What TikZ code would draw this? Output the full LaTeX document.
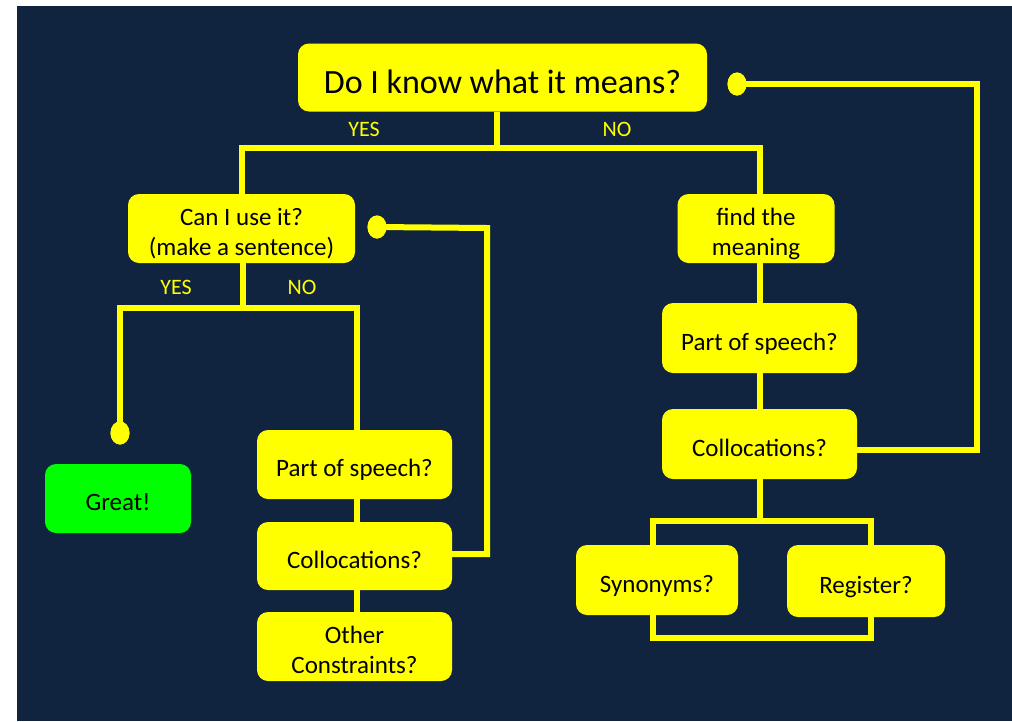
\documentclass[tikz,border=0pt]{standalone}
\usepackage{fontspec}
\setmainfont{Carlito}
\usetikzlibrary{shapes.geometric}
\definecolor{navy}{RGB}{17,36,63}
\definecolor{ylw}{RGB}{255,255,0}
\definecolor{grn}{RGB}{0,255,0}
\tikzset{
  box/.style={draw=none, fill=ylw, rounded corners=11pt, align=center, text=black,
    font=\fontsize{25}{30}\selectfont, inner sep=0pt, text depth=0pt, text height=24pt},
  twoline/.style={text height=54pt},
  conn/.style={draw=ylw, line width=6pt},
  dot/.style={ellipse, fill=ylw, minimum width=19pt, minimum height=23pt, inner sep=0pt},
  lbl/.style={text=ylw, font=\fontsize{22}{24}\selectfont, inner sep=0pt},
}
\begin{document}
\begin{tikzpicture}[x=1pt,y=-1pt]
\useasboundingbox (0,0) rectangle (1012,721);
\fill[white] (0,0) rectangle (1012,721);
\fill[navy] (17,6) rectangle (1012,721);

% boxes
\node[box, minimum width=409pt, minimum height=68pt, font=\fontsize{34}{40}\selectfont, text height=32pt] (top) at (502.5,77.5) {Do I know what it means?};
\node[box, twoline, minimum width=227pt, minimum height=69pt] (can) at (241.5,228.5) {Can I use it?\\(make a sentence)};
\node[box, twoline, minimum width=157pt, minimum height=69pt] (find) at (756,228.5) {find the\\meaning};
\node[box, minimum width=195pt, minimum height=70pt] (posR) at (759.5,338) {Part of speech?};
\node[box, minimum width=195pt, minimum height=70pt] (colR) at (759.5,444) {Collocations?};
\node[box, minimum width=162pt, minimum height=70pt] (syn) at (657,580) {Synonyms?};
\node[box, minimum width=158pt, minimum height=72pt] (reg) at (866,581) {Register?};
\node[box, fill=grn, minimum width=146pt, minimum height=69pt] (great) at (118,498.5) {Great!};
\node[box, minimum width=195pt, minimum height=69pt] (posL) at (354.5,464.5) {Part of speech?};
\node[box, minimum width=195pt, minimum height=68pt] (colL) at (354.5,556) {Collocations?};
\node[box, twoline, minimum width=195pt, minimum height=69pt] (oth) at (354.5,646.5) {Other\\Constraints?};

% dots
\node[dot] (d1) at (737,84) {};
\node[dot] (d2) at (377,227) {};
\node[dot] (d3) at (120,433) {};

% junction coordinates
\coordinate (jT) at (497,148);
\coordinate (jTL) at (242,148);
\coordinate (jTR) at (760,148);
\coordinate (jC) at (243,308);
\coordinate (jCL) at (120,308);
\coordinate (jCR) at (357,308);
\coordinate (jB) at (760,521);
\coordinate (jBL) at (653,521);
\coordinate (jBR) at (871,521);
\coordinate (jSL) at (653,638);
\coordinate (jSR) at (871,638);
\coordinate (l1) at (977,84);
\coordinate (l2) at (977,450);
\coordinate (m1) at (487,228);
\coordinate (m2) at (487,554);

% top split
\draw[conn] (jT |- top.south) -- (jT);
\draw[conn] (jTL |- can.north) -- (jTL) -- (jTR) -- (jTR |- find.north);
\node[lbl] (yes1) at (364,129) {YES};
\node[lbl] (no1) at (617,129) {NO};

% left split
\draw[conn] (jC |- can.south) -- (jC);
\draw[conn] (d3.center) -- (jCL) -- (jCR) -- (jCR |- posL.north);
\node[lbl] (yes2) at (176,287) {YES};
\node[lbl] (no2) at (302,287) {NO};

% left column
\draw[conn] (jCR |- posL.south) -- (jCR |- colL.north);
\draw[conn] (jCR |- colL.south) -- (jCR |- oth.north);
\draw[conn] (d2.center) -- (m1) -- (m2) -- (m2 -| colL.east);

% right column
\draw[conn] (jTR |- find.south) -- (jTR |- posR.north);
\draw[conn] (jTR |- posR.south) -- (jTR |- colR.north);
\draw[conn] (d1.center) -- (l1) -- (l2) -- (l2 -| colR.east);
\draw[conn] (jB |- colR.south) -- (jB);
\draw[conn] (jBL |- syn.north) -- (jBL) -- (jBR) -- (jBR |- reg.north);
\draw[conn] (jSL |- syn.south) -- (jSL) -- (jSR) -- (jSR |- reg.south);

% redraw dots on top of line ends
\node[dot] at (d1) {};
\node[dot] at (d2) {};
\node[dot] at (d3) {};
\end{tikzpicture}
\end{document}
